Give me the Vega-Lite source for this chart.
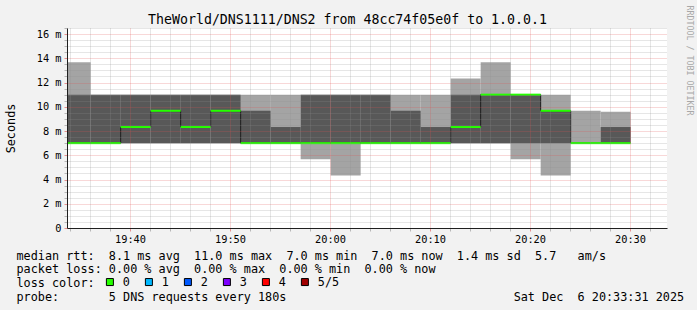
{
  "$schema": "https://vega.github.io/schema/vega-lite/v6.json",
  "width": 600,
  "height": 200,
  "autosize": {"type": "none"},
  "padding": {"left": 67, "top": 28, "right": 30, "bottom": 82},
  "background": "#f2f2f2",
  "title": {
    "text": "TheWorld/DNS1111/DNS2 from 48cc74f05e0f to 1.0.0.1",
    "font": "DejaVu Sans Mono",
    "fontSize": 13.25,
    "fontWeight": "normal",
    "color": "#000000",
    "anchor": "middle",
    "frame": "group",
    "dx": -19.5,
    "baseline": "alphabetic",
    "offset": -32
  },
  "data": {
    "values": [
      {"start": "2025-12-06T19:33:04Z", "end": "2025-12-06T19:36:04Z", "min": 7, "p2": 7, "median": 7, "p4": 11, "max": 13.67, "loss": "0"},
      {"start": "2025-12-06T19:36:04Z", "end": "2025-12-06T19:39:04Z", "min": 7, "p2": 7, "median": 7, "p4": 11, "max": 11, "loss": "0"},
      {"start": "2025-12-06T19:39:04Z", "end": "2025-12-06T19:42:04Z", "min": 7, "p2": 7, "median": 8.33, "p4": 11, "max": 11, "loss": "0"},
      {"start": "2025-12-06T19:42:04Z", "end": "2025-12-06T19:45:04Z", "min": 7, "p2": 7, "median": 9.67, "p4": 11, "max": 11, "loss": "0"},
      {"start": "2025-12-06T19:45:04Z", "end": "2025-12-06T19:48:04Z", "min": 7, "p2": 7, "median": 8.33, "p4": 11, "max": 11, "loss": "0"},
      {"start": "2025-12-06T19:48:04Z", "end": "2025-12-06T19:51:04Z", "min": 7, "p2": 7, "median": 9.67, "p4": 11, "max": 11, "loss": "0"},
      {"start": "2025-12-06T19:51:04Z", "end": "2025-12-06T19:54:04Z", "min": 7, "p2": 7, "median": 7, "p4": 9.67, "max": 11, "loss": "0"},
      {"start": "2025-12-06T19:54:04Z", "end": "2025-12-06T19:57:04Z", "min": 7, "p2": 7, "median": 7, "p4": 8.33, "max": 11, "loss": "0"},
      {"start": "2025-12-06T19:57:04Z", "end": "2025-12-06T20:00:04Z", "min": 5.67, "p2": 7, "median": 7, "p4": 11, "max": 11, "loss": "0"},
      {"start": "2025-12-06T20:00:04Z", "end": "2025-12-06T20:03:04Z", "min": 4.33, "p2": 7, "median": 7, "p4": 11, "max": 11, "loss": "0"},
      {"start": "2025-12-06T20:03:04Z", "end": "2025-12-06T20:06:04Z", "min": 7, "p2": 7, "median": 7, "p4": 11, "max": 11, "loss": "0"},
      {"start": "2025-12-06T20:06:04Z", "end": "2025-12-06T20:09:04Z", "min": 7, "p2": 7, "median": 7, "p4": 9.67, "max": 11, "loss": "0"},
      {"start": "2025-12-06T20:09:04Z", "end": "2025-12-06T20:12:04Z", "min": 7, "p2": 7, "median": 7, "p4": 8.33, "max": 11, "loss": "0"},
      {"start": "2025-12-06T20:12:04Z", "end": "2025-12-06T20:15:04Z", "min": 7, "p2": 7, "median": 8.33, "p4": 11, "max": 12.33, "loss": "0"},
      {"start": "2025-12-06T20:15:04Z", "end": "2025-12-06T20:18:04Z", "min": 7, "p2": 7, "median": 11, "p4": 11, "max": 13.67, "loss": "0"},
      {"start": "2025-12-06T20:18:04Z", "end": "2025-12-06T20:21:04Z", "min": 5.67, "p2": 7, "median": 11, "p4": 11, "max": 11, "loss": "0"},
      {"start": "2025-12-06T20:21:04Z", "end": "2025-12-06T20:24:04Z", "min": 4.33, "p2": 7, "median": 9.67, "p4": 9.67, "max": 11, "loss": "0"},
      {"start": "2025-12-06T20:24:04Z", "end": "2025-12-06T20:27:04Z", "min": 7, "p2": 7, "median": 7, "p4": 7, "max": 9.67, "loss": "0"},
      {"start": "2025-12-06T20:27:04Z", "end": "2025-12-06T20:30:04Z", "min": 7, "p2": 7, "median": 7, "p4": 8.33, "max": 9.6, "loss": "0"}
    ]
  },
  "encoding": {
    "x": {
      "field": "start",
      "type": "temporal",
      "scale": {
        "type": "utc",
        "domain": [
          {"year": 2025, "month": 12, "date": 6, "hours": 19, "minutes": 33, "seconds": 42, "utc": true},
          {"year": 2025, "month": 12, "date": 6, "hours": 20, "minutes": 33, "seconds": 42, "utc": true}
        ]
      },
      "axis": {
        "orient": "bottom",
        "zindex": 1,
        "values": [
          {"year": 2025, "month": 12, "date": 6, "hours": 19, "minutes": 34, "utc": true},
          {"year": 2025, "month": 12, "date": 6, "hours": 19, "minutes": 36, "utc": true},
          {"year": 2025, "month": 12, "date": 6, "hours": 19, "minutes": 38, "utc": true},
          {"year": 2025, "month": 12, "date": 6, "hours": 19, "minutes": 40, "utc": true},
          {"year": 2025, "month": 12, "date": 6, "hours": 19, "minutes": 42, "utc": true},
          {"year": 2025, "month": 12, "date": 6, "hours": 19, "minutes": 44, "utc": true},
          {"year": 2025, "month": 12, "date": 6, "hours": 19, "minutes": 46, "utc": true},
          {"year": 2025, "month": 12, "date": 6, "hours": 19, "minutes": 48, "utc": true},
          {"year": 2025, "month": 12, "date": 6, "hours": 19, "minutes": 50, "utc": true},
          {"year": 2025, "month": 12, "date": 6, "hours": 19, "minutes": 52, "utc": true},
          {"year": 2025, "month": 12, "date": 6, "hours": 19, "minutes": 54, "utc": true},
          {"year": 2025, "month": 12, "date": 6, "hours": 19, "minutes": 56, "utc": true},
          {"year": 2025, "month": 12, "date": 6, "hours": 19, "minutes": 58, "utc": true},
          {"year": 2025, "month": 12, "date": 6, "hours": 20, "minutes": 0, "utc": true},
          {"year": 2025, "month": 12, "date": 6, "hours": 20, "minutes": 2, "utc": true},
          {"year": 2025, "month": 12, "date": 6, "hours": 20, "minutes": 4, "utc": true},
          {"year": 2025, "month": 12, "date": 6, "hours": 20, "minutes": 6, "utc": true},
          {"year": 2025, "month": 12, "date": 6, "hours": 20, "minutes": 8, "utc": true},
          {"year": 2025, "month": 12, "date": 6, "hours": 20, "minutes": 10, "utc": true},
          {"year": 2025, "month": 12, "date": 6, "hours": 20, "minutes": 12, "utc": true},
          {"year": 2025, "month": 12, "date": 6, "hours": 20, "minutes": 14, "utc": true},
          {"year": 2025, "month": 12, "date": 6, "hours": 20, "minutes": 16, "utc": true},
          {"year": 2025, "month": 12, "date": 6, "hours": 20, "minutes": 18, "utc": true},
          {"year": 2025, "month": 12, "date": 6, "hours": 20, "minutes": 20, "utc": true},
          {"year": 2025, "month": 12, "date": 6, "hours": 20, "minutes": 22, "utc": true},
          {"year": 2025, "month": 12, "date": 6, "hours": 20, "minutes": 24, "utc": true},
          {"year": 2025, "month": 12, "date": 6, "hours": 20, "minutes": 26, "utc": true},
          {"year": 2025, "month": 12, "date": 6, "hours": 20, "minutes": 28, "utc": true},
          {"year": 2025, "month": 12, "date": 6, "hours": 20, "minutes": 30, "utc": true},
          {"year": 2025, "month": 12, "date": 6, "hours": 20, "minutes": 32, "utc": true}
        ],
        "labelExpr": "utcminutes(datum.value) % 10 === 0 ? utcFormat(datum.value, '%H:%M') : ''",
        "labelFont": "DejaVu Sans Mono",
        "labelFontSize": 10.3,
        "labelColor": "#000000",
        "labelPadding": 3,
        "labelOverlap": false,
        "labelFlush": false,
        "grid": true,
        "gridColor": {"condition": {"test": "utcminutes(datum.value) % 10 === 0", "value": "#de4f4f"}, "value": "#8f8f8f"},
        "gridOpacity": 0.45,
        "gridDash": [1, 1],
        "gridWidth": 1,
        "ticks": true,
        "tickSize": 3,
        "tickColor": {"condition": {"test": "utcminutes(datum.value) % 10 === 0", "value": "#de4f4f"}, "value": "#8f8f8f"},
        "tickOpacity": 0.6,
        "domainColor": "#1f1f1f",
        "domainWidth": 1,
        "title": [
          "median\u00a0rtt:\u00a0\u00a08.1\u00a0ms\u00a0avg\u00a0\u00a011.0\u00a0ms\u00a0max\u00a0\u00a07.0\u00a0ms\u00a0min\u00a0\u00a07.0\u00a0ms\u00a0now\u00a0\u00a01.4\u00a0ms\u00a0sd\u00a0\u00a05.7\u00a0\u00a0\u00a0am/s",
          "packet\u00a0loss:\u00a00.00\u00a0%\u00a0avg\u00a0\u00a00.00\u00a0%\u00a0max\u00a0\u00a00.00\u00a0%\u00a0min\u00a0\u00a00.00\u00a0%\u00a0now",
          "loss\u00a0color:",
          "probe:\u00a0\u00a0\u00a0\u00a0\u00a0\u00a0\u00a05\u00a0DNS\u00a0requests\u00a0every\u00a0180s\u00a0\u00a0\u00a0\u00a0\u00a0\u00a0\u00a0\u00a0\u00a0\u00a0\u00a0\u00a0\u00a0\u00a0\u00a0\u00a0\u00a0\u00a0\u00a0\u00a0\u00a0\u00a0\u00a0\u00a0\u00a0\u00a0\u00a0\u00a0\u00a0\u00a0\u00a0\u00a0Sat\u00a0Dec\u00a0\u00a06\u00a020:33:31\u00a02025"
        ],
        "titleFont": "DejaVu Sans Mono",
        "titleFontSize": 11.8,
        "titleFontWeight": "normal",
        "titleColor": "#000000",
        "titleAnchor": "start",
        "titleAlign": "left",
        "titleBaseline": "alphabetic",
        "titleX": -51,
        "titleY": 31,
        "titleLineHeight": 13.67
      }
    }
  },
  "layer": [
    {
      "mark": {"type": "rect", "color": "#a4a4a4", "clip": true},
      "encoding": {
        "x2": {"field": "end"},
        "y": {
          "field": "min",
          "type": "quantitative",
          "scale": {"domain": [0, 16.5], "nice": false, "zero": false},
          "axis": {
            "orient": "left",
            "zindex": 1,
            "values": [0, 0.5, 1, 1.5, 2, 2.5, 3, 3.5, 4, 4.5, 5, 5.5, 6, 6.5, 7, 7.5, 8, 8.5, 9, 9.5, 10, 10.5, 11, 11.5, 12, 12.5, 13, 13.5, 14, 14.5, 15, 15.5, 16, 16.5],
            "labelExpr": "datum.value % 2 === 0 ? (datum.value === 0 ? '0\u00a0' : datum.value + ' m') : ''",
            "labelFont": "DejaVu Sans Mono",
            "labelFontSize": 10.3,
            "labelColor": "#000000",
            "labelPadding": 3,
            "labelOverlap": false,
            "labelBaseline": "middle",
            "grid": true,
            "gridColor": {"condition": {"test": "datum.value % 2 === 0", "value": "#de4f4f"}, "value": "#8f8f8f"},
            "gridOpacity": 0.45,
            "gridDash": [1, 1],
            "gridWidth": 1,
            "ticks": true,
            "tickSize": 3,
            "tickColor": {"condition": {"test": "datum.value % 2 === 0", "value": "#de4f4f"}, "value": "#8f8f8f"},
            "tickOpacity": 0.6,
            "domainColor": "#1f1f1f",
            "domainWidth": 1,
            "title": "Seconds",
            "titleFont": "DejaVu Sans Mono",
            "titleFontSize": 11.8,
            "titleFontWeight": "normal",
            "titleColor": "#000000",
            "titleAngle": 270,
            "titleAlign": "center",
            "titleBaseline": "middle",
            "titleX": -56.7,
            "titleY": 100
          }
        },
        "y2": {"field": "max"}
      }
    },
    {
      "mark": {"type": "rect", "color": "#585858", "clip": true},
      "encoding": {
        "x2": {"field": "end"},
        "y": {
          "field": "p2",
          "type": "quantitative",
          "scale": {"domain": [0, 16.5], "nice": false, "zero": false},
          "axis": {
            "orient": "right",
            "domain": false,
            "ticks": false,
            "labels": false,
            "grid": false,
            "title": "RRDTOOL / TOBI OETIKER",
            "titleFont": "DejaVu Sans Mono",
            "titleFontSize": 8.3,
            "titleFontWeight": "normal",
            "titleColor": "#a8a8a8",
            "titleAngle": 90,
            "titleAlign": "center",
            "titleBaseline": "middle",
            "titleX": 21,
            "titleY": 32
          }
        },
        "y2": {"field": "p4"}
      }
    },
    {
      "mark": {"type": "line", "interpolate": "step-after", "color": "#1a1a1a", "strokeWidth": 1, "clip": true},
      "encoding": {
        "y": {"field": "median", "type": "quantitative", "scale": {"domain": [0, 16.5], "nice": false, "zero": false}, "axis": null}
      }
    },
    {
      "mark": {"type": "rule", "strokeWidth": 2, "color": "#26ff00", "clip": true},
      "encoding": {
        "x2": {"field": "end"},
        "y": {"field": "median", "type": "quantitative", "scale": {"domain": [0, 16.5], "nice": false, "zero": false}, "axis": null}
      }
    },
    {
      "mark": {"type": "square", "opacity": 0, "clip": true},
      "encoding": {
        "y": {"field": "median", "type": "quantitative", "scale": {"domain": [0, 16.5], "nice": false, "zero": false}, "axis": null},
        "color": {
          "field": "loss",
          "type": "nominal",
          "scale": {"domain": ["0", "1", "2", "3", "4", "5/5"], "range": ["#26ff00", "#00b8ff", "#0059ff", "#7e00ff", "#ff0000", "#a10000"]},
          "legend": {
            "orient": "none",
            "legendX": 37,
            "legendY": 248,
            "direction": "horizontal",
            "title": null,
            "padding": 0,
            "symbolType": "square",
            "symbolSize": 49,
            "symbolOpacity": 1,
            "symbolStrokeColor": "#000000",
            "symbolStrokeWidth": 1,
            "labelFont": "DejaVu Sans Mono",
            "labelFontSize": 11.8,
            "labelColor": "#000000",
            "labelOffset": 7,
            "labelBaseline": "middle",
            "columnPadding": 13
          }
        }
      }
    }
  ],
  "resolve": {"axis": {"y": "independent"}},
  "config": {
    "font": "DejaVu Sans Mono",
    "view": {"stroke": null, "fill": "#ffffff"}
  }
}
